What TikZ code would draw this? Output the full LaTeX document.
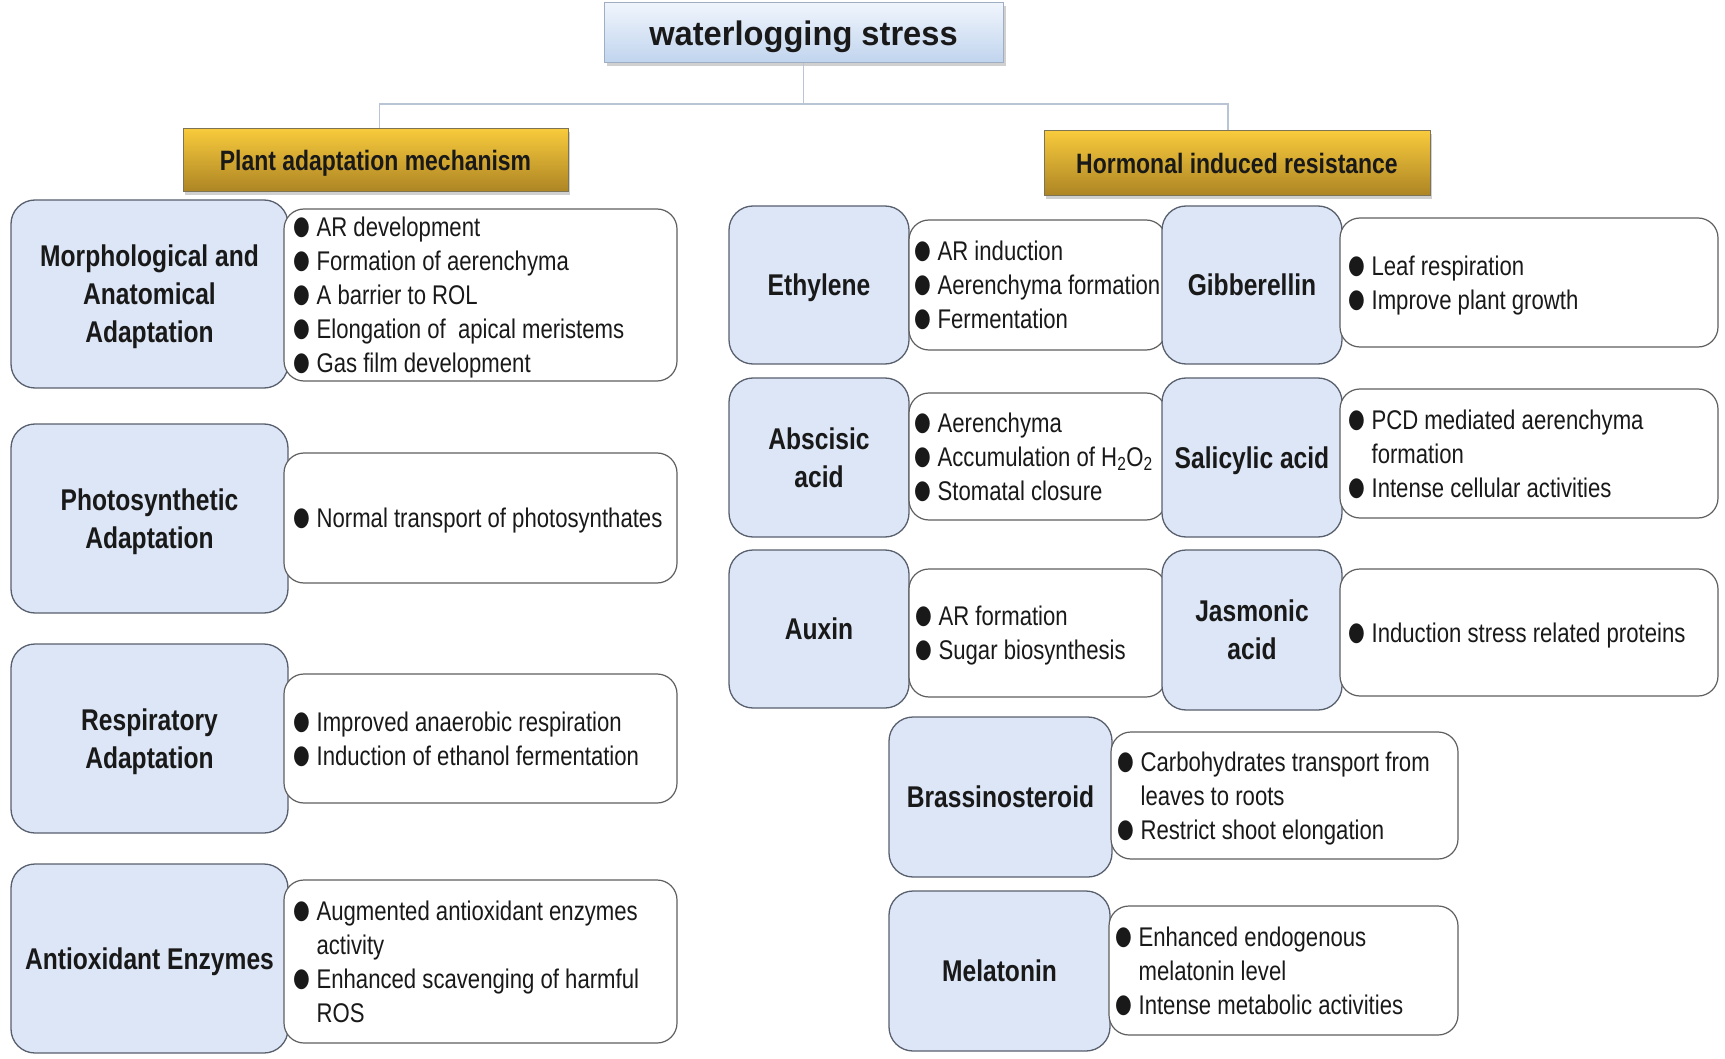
\documentclass[tikz,border=0pt]{standalone}
\usepackage{fontspec}
\setmainfont{Liberation Sans}[FakeStretch=0.82]
\newfontfamily\titlefont{Liberation Sans}[FakeStretch=0.96]
\newfontfamily\bulfont{DejaVu Sans}[FakeStretch=0.74]
\usetikzlibrary{shadows}
\definecolor{bluefill}{RGB}{220,230,246}
\definecolor{blueline}{RGB}{88,96,110}
\definecolor{whiteline}{RGB}{95,95,95}
\definecolor{goldtop}{RGB}{248,202,60}
\definecolor{goldmid}{RGB}{238,188,44}
\definecolor{goldbot}{RGB}{172,132,36}
\definecolor{goldline}{RGB}{125,115,85}
\definecolor{titletop}{RGB}{240,245,252}
\definecolor{titlebot}{RGB}{192,212,238}
\definecolor{titleline}{RGB}{160,174,196}
\definecolor{conn}{RGB}{185,196,212}
\newcommand{\bl}{\makebox[21pt][l]{\hspace*{-2.5pt}\raisebox{2pt}{\bulfont\fontsize{26}{26}\selectfont ●}}}
\newcommand{\nb}{\hspace*{21pt}}
\begin{document}
\begin{tikzpicture}[x=1pt,y=-1pt,
  catbox/.style={draw=blueline, line width=1.3pt, fill=bluefill, rounded corners=24pt,
    align=center, inner sep=0pt, text depth=0pt, font=\bfseries\fontsize{30}{38}\selectfont, text=black!90},
  descbox/.style={draw=whiteline, line width=1.2pt, fill=white, rounded corners=20pt, inner sep=0pt},
  desctext/.style={anchor=west, align=left, inner sep=0pt, text depth=0pt, font=\fontsize{27}{34}\selectfont, text=black!90},
  headbox/.style={draw=goldline, line width=1pt, top color=goldtop, middle color=goldmid, bottom color=goldbot,
    inner sep=0pt, text depth=0pt, font=\bfseries\fontsize{28}{32}\selectfont, text=black!90,
    drop shadow={shadow xshift=2pt, shadow yshift=-3pt, opacity=0.3, fill=black!60}},
  titlebox/.style={draw=titleline, line width=1pt, top color=titletop, bottom color=titlebot,
    inner sep=0pt, text depth=0pt, font=\titlefont\bfseries\fontsize{34}{40}\selectfont, text=black!90,
    drop shadow={shadow xshift=3pt, shadow yshift=-3pt, opacity=0.3, fill=black!60}},
  conline/.style={draw=conn, line width=1.2pt}
]
\useasboundingbox[fill=white] (0,0) rectangle (1725,1059);

% title and headers
\node[titlebox, minimum width=399, minimum height=60] (title) at (803.5,33) {waterlogging stress};
\node[headbox, minimum width=385, minimum height=63] (hl) at (375.5,160.5) {Plant adaptation mechanism};
\node[headbox, minimum width=386, minimum height=65] (hr) at (1237,163.5) {Hormonal induced resistance};
\coordinate (junc) at (803.5,104);
\draw[conline] (title.south) -- (junc) -| ([xshift=4pt]hl.north);
\draw[conline] (junc) -| ([xshift=-9pt]hr.north);

% left column
\node[catbox, minimum width=277, minimum height=188] (c1) at (149.5,294) {Morphological and\\Anatomical\\Adaptation};
\node[descbox, minimum width=393, minimum height=172] (w1) at (480.5,295) {};
\node[desctext] (t1) at ([xshift=12pt]w1.west) {\bl AR development\\\bl Formation of aerenchyma\\\bl A barrier to ROL\\\bl Elongation of\ \ apical meristems\\\bl Gas film development};

\node[catbox, minimum width=277, minimum height=189] (c2) at (149.5,518.5) {Photosynthetic\\Adaptation};
\node[descbox, minimum width=393, minimum height=130] (w2) at (480.5,518) {};
\node[desctext] (t2) at ([xshift=12pt]w2.west) {\bl Normal transport of photosynthates};

\node[catbox, minimum width=277, minimum height=189] (c3) at (149.5,738.5) {Respiratory\\Adaptation};
\node[descbox, minimum width=393, minimum height=129] (w3) at (480.5,738.5) {};
\node[desctext] (t3) at ([xshift=12pt]w3.west) {\bl Improved anaerobic respiration\\\bl Induction of ethanol fermentation};

\node[catbox, minimum width=277, minimum height=189] (c4) at (149.5,958.5) {Antioxidant Enzymes};
\node[descbox, minimum width=393, minimum height=163] (w4) at (480.5,961.5) {};
\node[desctext] (t4) at ([xshift=12pt]w4.west) {\bl Augmented antioxidant enzymes\\\nb activity\\\bl Enhanced scavenging of harmful\\\nb ROS};

% right side, row 1
\node[catbox, minimum width=180, minimum height=158] (eth) at (819,285) {Ethylene};
\node[descbox, minimum width=257, minimum height=130] (ethw) at (1037.5,285) {};
\node[desctext] (etht) at ([xshift=8pt]ethw.west) {\bl AR induction\\\bl Aerenchyma formation\\\bl Fermentation};
\node[catbox, minimum width=180, minimum height=158] (gib) at (1252,285) {Gibberellin};
\node[descbox, minimum width=378, minimum height=129] (gibw) at (1529,282.5) {};
\node[desctext] (gibt) at ([xshift=11pt]gibw.west) {\bl Leaf respiration\\\bl Improve plant growth};

% row 2
\node[catbox, minimum width=180, minimum height=159] (aba) at (819,457.5) {Abscisic\\acid};
\node[descbox, minimum width=257, minimum height=127] (abaw) at (1037.5,456.5) {};
\node[desctext] (abat) at ([xshift=8pt]abaw.west) {\bl Aerenchyma\\\bl Accumulation of H\textsubscript{2}O\textsubscript{2}\\\bl Stomatal closure};
\node[catbox, minimum width=180, minimum height=159] (sal) at (1252,457.5) {Salicylic acid};
\node[descbox, minimum width=378, minimum height=129] (salw) at (1529,453.5) {};
\node[desctext] (salt) at ([xshift=11pt]salw.west) {\bl PCD mediated aerenchyma\\\nb formation\\\bl Intense cellular activities};

% row 3
\node[catbox, minimum width=180, minimum height=158] (aux) at (819,629) {Auxin};
\node[descbox, minimum width=257, minimum height=128] (auxw) at (1037.5,633) {};
\node[desctext] (auxt) at ([xshift=9pt]auxw.west) {\bl AR formation\\\bl Sugar biosynthesis};
\node[catbox, minimum width=180, minimum height=160] (jas) at (1252,630) {Jasmonic\\acid};
\node[descbox, minimum width=378, minimum height=127] (jasw) at (1529,632.5) {};
\node[desctext] (jast) at ([xshift=11pt]jasw.west) {\bl Induction stress related proteins};

% row 4
\node[catbox, minimum width=223, minimum height=160] (bra) at (1000.5,797) {Brassinosteroid};
\node[descbox, minimum width=347, minimum height=127] (braw) at (1284.5,795.5) {};
\node[desctext] (brat) at ([xshift=9pt]braw.west) {\bl Carbohydrates transport from\\\nb leaves to roots\\\bl Restrict shoot elongation};

% row 5
\node[catbox, minimum width=221, minimum height=160] (mel) at (999.5,971) {Melatonin};
\node[descbox, minimum width=349, minimum height=129] (melw) at (1283.5,970.5) {};
\node[desctext] (melt) at ([xshift=9pt]melw.west) {\bl Enhanced endogenous\\\nb melatonin level\\\bl Intense metabolic activities};
\end{tikzpicture}
\end{document}
